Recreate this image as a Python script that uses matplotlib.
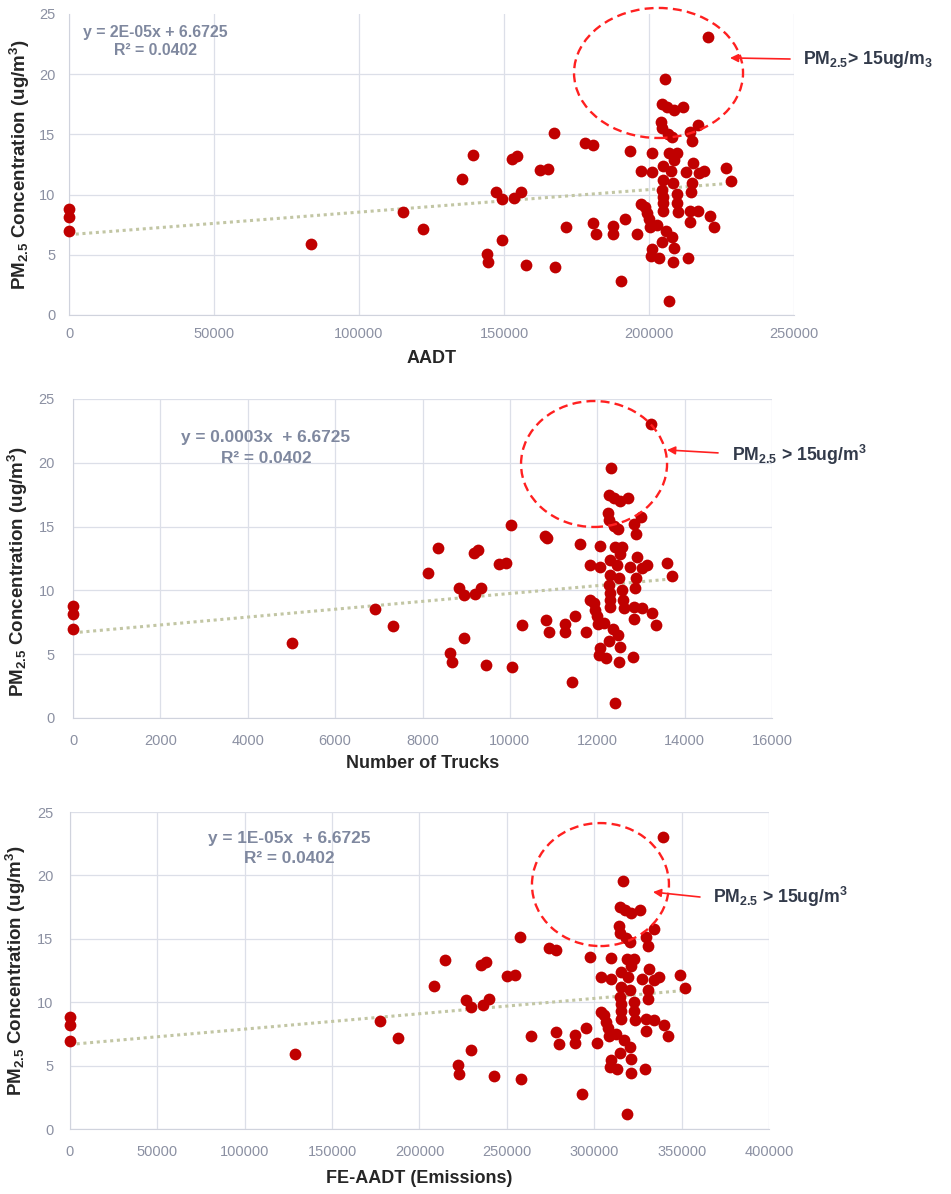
import matplotlib
matplotlib.use("Agg")
import matplotlib.pyplot as plt
from matplotlib.patches import Ellipse

# PM2.5 readings, same sites in all three panels
PM25 = [8.8, 8.17, 6.98, 5.9, 8.53, 7.17, 11.32, 13.31, 10.2, 9.63,
        6.26, 5.07, 4.37, 12.96, 13.2, 9.75, 10.22, 4.18, 12.07, 12.15,
        15.12, 3.96, 7.31, 14.26, 14.09, 7.67, 6.73, 7.4, 6.76, 8.0,
        2.8, 13.6, 6.76, 11.99, 9.25, 9.0, 8.45, 7.95, 7.34, 13.45,
        11.85, 5.45, 4.9, 4.73, 7.47, 6.03, 19.6, 17.5, 17.25, 17.03,
        17.25, 16.03, 15.5, 15.03, 14.78, 15.76, 15.17, 14.45, 13.43, 13.43,
        12.87, 12.4, 11.99, 12.65, 11.85, 11.77, 11.99, 12.18, 11.13, 11.21,
        10.94, 10.99, 10.38, 10.22, 10.02, 9.83, 9.28, 9.28, 8.58, 8.66,
        8.66, 8.61, 7.72, 8.22, 7.31, 7.0, 6.48, 5.56, 4.4, 4.76, 1.19, 23.06]

AADT = [0, 0, 0, 83600, 115300, 122000, 135400, 139200, 147300, 149200,
        149200, 144000, 144500, 152800, 154600, 153500, 155700, 157600, 162300, 165300,
        167100, 167600, 171300, 178000, 180700, 180600, 181600, 187700, 187700, 191700,
        190300, 193300, 195800, 197200, 197200, 198600, 199200, 200100, 200300, 201100,
        201100, 201100, 200600, 203300, 202700, 204500, 205400, 204500, 206300, 208500,
        211700, 204000, 204600, 206400, 208000, 216900, 214100, 214700, 206900, 209500,
        208500, 204900, 207500, 215100, 212600, 217100, 219000, 226500, 228400, 204900,
        208200, 214700, 204600, 214600, 209500, 204800, 204800, 209800, 210100, 204800,
        214200, 217000, 214200, 220900, 222300, 205900, 208000, 208500, 208400, 213500,
        206900, 220300]

TRUCKS = [0, 0, 0, 5010, 6920, 7320, 8120, 8350, 8840, 8950,
          8950, 8640, 8670, 9170, 9270, 9210, 9340, 9450, 9740, 9920,
          10030, 10050, 10280, 10800, 10860, 10830, 10900, 11260, 11260, 11500,
          11420, 11600, 11750, 11830, 11830, 11920, 11950, 12000, 12020, 12070,
          12070, 12070, 12030, 12200, 12160, 12270, 12320, 12270, 12380, 12510,
          12700, 12240, 12270, 12390, 12480, 13010, 12850, 12880, 12410, 12570,
          12510, 12300, 12450, 12900, 12760, 13030, 13140, 13590, 13700, 12300,
          12490, 12880, 12270, 12870, 12570, 12290, 12290, 12590, 12610, 12290,
          12850, 13020, 12850, 13250, 13340, 12350, 12480, 12510, 12500, 12810,
          12410, 13220]

FE_AADT = [0, 0, 0, 128700, 177500, 187800, 208500, 214400, 226900, 229700,
           229700, 221800, 222500, 235200, 238100, 236400, 239800, 242700, 249900, 254500,
           257400, 258100, 263700, 274200, 278200, 278100, 279700, 289000, 289000, 295200,
           293100, 297700, 301600, 303700, 303700, 305800, 306700, 308100, 308500, 309700,
           309700, 309700, 308900, 313100, 312200, 314900, 316300, 314900, 317700, 321100,
           326000, 314200, 315000, 317900, 320400, 334000, 329700, 330600, 318600, 322700,
           321100, 315600, 319500, 331200, 327500, 334400, 337200, 348900, 351700, 315600,
           320600, 330600, 315000, 330500, 322700, 315400, 315400, 323000, 323500, 315400,
           329900, 334100, 329900, 340200, 342300, 317000, 320400, 321100, 320900, 328900,
           318600, 339300]

TREND_INTERCEPT = 6.6725
AADT_SLOPE = 1.87e-05
TRUCKS_SLOPE = 3.08e-04
FE_SLOPE = 1.21e-05

plt.rcParams["font.family"] = "Liberation Sans"
plt.rcParams["mathtext.fontset"] = "custom"
plt.rcParams["mathtext.rm"] = "Liberation Sans:bold"
plt.rcParams["mathtext.it"] = "Liberation Sans:bold"
plt.rcParams["mathtext.bf"] = "Liberation Sans:bold"
plt.rcParams["mathtext.default"] = "rm"

GRID = "#dcdfe8"
DOT = "#c00000"
TREND = "#c2c6a4"
TICK = "#8b90a2"
LABEL = "#262626"
EQ = "#7f889f"
NOTE = "#323a4a"
RING = "#ff2020"

fig = plt.figure(figsize=(9.51, 11.94), dpi=100)


def scatter_panel(rect, x, slope, xmax, xstep, xlabel, ylab_xy, xlab_y,
                  xpad, ypad, eq, eq_x, eq_y, eq_size, ring, tail, head,
                  note, note_xy, top_grid=True):
    ax = fig.add_axes(rect)
    ax.set_xlim(0, xmax)
    ax.set_ylim(0, 25)
    ax.set_xticks(range(0, xmax + 1, xstep))
    ax.set_yticks(range(0, 26, 5))
    ax.grid(True, color=GRID, lw=0.9)
    ax.set_axisbelow(True)
    for side, sp in ax.spines.items():
        sp.set_visible(side in ("left", "bottom"))
        sp.set_color("#d0d3dd")
    ax.tick_params(length=0, labelsize=10.5, labelcolor=TICK)
    ax.tick_params(axis="x", pad=xpad)
    ax.tick_params(axis="y", pad=ypad)
    if not top_grid:
        ax.yaxis.get_gridlines()[-1].set_visible(False)

    ends = [0, max(x)]
    ax.plot(ends, [TREND_INTERCEPT + slope * v for v in ends], color=TREND,
            lw=2.2, ls=(0, (1, 1.2)), zorder=2)
    ax.scatter(x, PM25, s=72, color=DOT, linewidths=0, zorder=3, clip_on=False)

    ax.set_xlabel(xlabel, fontsize=13, fontweight="bold", color=LABEL)
    ax.xaxis.set_label_coords(0.5, xlab_y)
    ax.set_ylabel("PM$_{2.5}$ Concentration (ug/m$^3$)", fontsize=13.5,
                  fontweight="bold", color=LABEL)
    ax.yaxis.set_label_coords(*ylab_xy)

    ax.text(eq_x, eq_y[0], eq[0], ha="center", va="center", fontsize=eq_size,
            fontweight="bold", color=EQ)
    ax.text(eq_x, eq_y[1], eq[1], ha="center", va="center", fontsize=eq_size,
            fontweight="bold", color=EQ)

    ax.add_patch(Ellipse(ring[:2], ring[2], ring[3], fill=False, ec=RING,
                         lw=1.7, ls=(0, (3.8, 2.2)), clip_on=False, zorder=4))
    ax.annotate("", xy=head, xytext=tail, annotation_clip=False,
                arrowprops=dict(arrowstyle="-|>", color=RING, lw=1.2,
                                mutation_scale=12, shrinkA=0, shrinkB=0))
    ax.text(note_xy[0], note_xy[1], note, ha="left", va="center", fontsize=12.7,
            fontweight="bold", color=NOTE, clip_on=False)
    return ax


scatter_panel([0.0726, 0.7362, 0.7624, 0.2521], AADT, AADT_SLOPE, 250000, 50000,
              "AADT", (-0.0515, 0.5), -0.115, 8.5, 10,
              ("y = 2E-05x + 6.6725", "R² = 0.0402"), 29650, (23.5, 22.0), 11.4,
              (203260, 20.1, 58270, 10.8), (248600, 21.26), (227900, 21.35),
              "PM$_{2.5}$> 15ug/m$_3$", (253100, 21.18), top_grid=False)

scatter_panel([0.0768, 0.3987, 0.7350, 0.2672], TRUCKS, TRUCKS_SLOPE, 16000, 2000,
              "Number of Trucks", (-0.0615, 0.458), -0.1176, 11.5, 13,
              ("y = 0.0003x  + 6.6725", "R² = 0.0402"), 4418, (21.94, 20.3), 12.4,
              (11926, 19.9, 3342, 9.87), (14764, 20.77), (13597, 21.0),
              "PM$_{2.5}$ > 15ug/m$^3$", (15085, 20.6))

scatter_panel([0.0736, 0.0544, 0.7350, 0.2655], FE_AADT, FE_SLOPE, 400000, 50000,
              "FE-AADT (Emissions)", (-0.0597, 0.5), -0.128, 11.5, 12,
              ("y = 1E-05x  + 6.6725", "R² = 0.0402"), 125600, (22.95, 21.37), 12.4,
              (303560, 19.28, 78390, 9.7), (360500, 18.3), (333600, 18.69),
              "PM$_{2.5}$ > 15ug/m$^3$", (367900, 18.3))

fig.savefig("out.png", dpi=100)
